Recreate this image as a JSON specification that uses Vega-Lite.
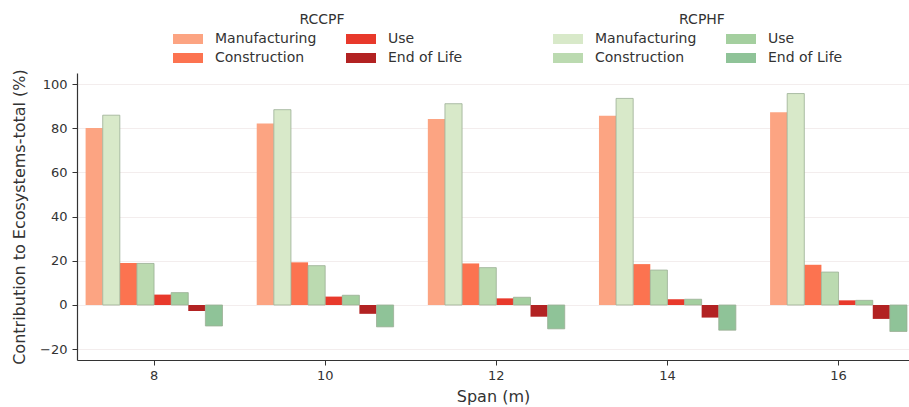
{
  "$schema": "https://vega.github.io/schema/vega-lite/v6.json",
  "autosize": {"type": "none"},
  "padding": {"left": 77, "top": 73, "right": 0, "bottom": 47},
  "width": 832,
  "height": 287,
  "background": "white",
  "config": {
    "font": "DejaVu Sans",
    "view": {"stroke": null},
    "axis": {"labelFont": "DejaVu Sans", "titleFont": "DejaVu Sans", "labelColor": "#333333", "titleColor": "#333333", "domainColor": "#333333", "tickColor": "#333333", "domainWidth": 1.2, "tickWidth": 1, "tickSize": 5, "labelFontSize": 13, "titleFontSize": 16, "titleFontWeight": "normal"},
    "legend": {"labelFont": "DejaVu Sans", "titleFont": "DejaVu Sans", "labelFontSize": 14, "titleFontSize": 14, "titleFontWeight": "normal", "labelColor": "#333333", "titleColor": "#333333"}
  },
  "data": {
    "values": [
      {"span": 8, "system": "RCCPF", "phase": "Manufacturing", "value": 80.1},
      {"span": 8, "system": "RCPHF", "phase": "Manufacturing", "value": 85.9},
      {"span": 8, "system": "RCCPF", "phase": "Construction", "value": 19.0},
      {"span": 8, "system": "RCPHF", "phase": "Construction", "value": 18.8},
      {"span": 8, "system": "RCCPF", "phase": "Use", "value": 4.7},
      {"span": 8, "system": "RCPHF", "phase": "Use", "value": 5.6},
      {"span": 8, "system": "RCCPF", "phase": "End of Life", "value": -2.7},
      {"span": 8, "system": "RCPHF", "phase": "End of Life", "value": -9.5},
      {"span": 10, "system": "RCCPF", "phase": "Manufacturing", "value": 82.1},
      {"span": 10, "system": "RCPHF", "phase": "Manufacturing", "value": 88.4},
      {"span": 10, "system": "RCCPF", "phase": "Construction", "value": 19.3},
      {"span": 10, "system": "RCPHF", "phase": "Construction", "value": 17.8},
      {"span": 10, "system": "RCCPF", "phase": "Use", "value": 3.8},
      {"span": 10, "system": "RCPHF", "phase": "Use", "value": 4.4},
      {"span": 10, "system": "RCCPF", "phase": "End of Life", "value": -4.0},
      {"span": 10, "system": "RCPHF", "phase": "End of Life", "value": -9.9},
      {"span": 12, "system": "RCCPF", "phase": "Manufacturing", "value": 84.2},
      {"span": 12, "system": "RCPHF", "phase": "Manufacturing", "value": 91.1},
      {"span": 12, "system": "RCCPF", "phase": "Construction", "value": 18.8},
      {"span": 12, "system": "RCPHF", "phase": "Construction", "value": 16.9},
      {"span": 12, "system": "RCCPF", "phase": "Use", "value": 3.0},
      {"span": 12, "system": "RCPHF", "phase": "Use", "value": 3.5},
      {"span": 12, "system": "RCCPF", "phase": "End of Life", "value": -5.3},
      {"span": 12, "system": "RCPHF", "phase": "End of Life", "value": -10.8},
      {"span": 14, "system": "RCCPF", "phase": "Manufacturing", "value": 85.7},
      {"span": 14, "system": "RCPHF", "phase": "Manufacturing", "value": 93.5},
      {"span": 14, "system": "RCCPF", "phase": "Construction", "value": 18.5},
      {"span": 14, "system": "RCPHF", "phase": "Construction", "value": 15.8},
      {"span": 14, "system": "RCCPF", "phase": "Use", "value": 2.6},
      {"span": 14, "system": "RCPHF", "phase": "Use", "value": 2.6},
      {"span": 14, "system": "RCCPF", "phase": "End of Life", "value": -5.7},
      {"span": 14, "system": "RCPHF", "phase": "End of Life", "value": -11.4},
      {"span": 16, "system": "RCCPF", "phase": "Manufacturing", "value": 87.2},
      {"span": 16, "system": "RCPHF", "phase": "Manufacturing", "value": 95.7},
      {"span": 16, "system": "RCCPF", "phase": "Construction", "value": 18.2},
      {"span": 16, "system": "RCPHF", "phase": "Construction", "value": 14.9},
      {"span": 16, "system": "RCCPF", "phase": "Use", "value": 2.1},
      {"span": 16, "system": "RCPHF", "phase": "Use", "value": 2.1},
      {"span": 16, "system": "RCCPF", "phase": "End of Life", "value": -6.3},
      {"span": 16, "system": "RCPHF", "phase": "End of Life", "value": -12.0}
    ]
  },
  "transform": [{"calculate": "datum.phase + ' ' + datum.system", "as": "slot"}],
  "encoding": {
    "x": {
      "field": "span", "type": "ordinal",
      "scale": {"paddingInner": 0.2, "paddingOuter": 0.031, "align": 0.81},
      "axis": {"title": "Span (m)", "labelAngle": 0, "labelPadding": 4, "titlePadding": 6, "grid": false}
    },
    "xOffset": {
      "field": "slot", "type": "nominal",
      "scale": {"domain": ["Manufacturing RCCPF", "Manufacturing RCPHF", "Construction RCCPF", "Construction RCPHF", "Use RCCPF", "Use RCPHF", "End of Life RCCPF", "End of Life RCPHF"]}
    },
    "y": {
      "field": "value", "type": "quantitative",
      "scale": {"domain": [-24.9, 105], "nice": false, "zero": false},
      "axis": {"title": "Contribution to Ecosystems-total (%)", "values": [-20, 0, 20, 40, 60, 80, 100], "grid": true, "gridColor": "#F3EDED", "gridWidth": 1, "labelPadding": 5, "titlePadding": 12}
    }
  },
  "layer": [
    {
      "transform": [{"filter": "datum.system === 'RCCPF'"}],
      "mark": {"type": "bar", "strokeWidth": 0},
      "encoding": {
        "color": {
          "field": "phase", "type": "nominal",
          "scale": {"domain": ["Manufacturing", "Construction", "Use", "End of Life"], "range": ["#FCA482", "#FC7350", "#E8392B", "#B22222"]},
          "legend": {"title": "RCCPF", "orient": "none", "legendX": 104, "legendY": -60, "columns": 2, "columnPadding": 29, "rowPadding": 5, "labelOffset": 20, "symbolType": "M-3,-1H3V1H-3Z", "symbolSize": 100, "symbolStrokeWidth": 0, "titleAnchor": "middle", "titlePadding": 5}
        }
      }
    },
    {
      "transform": [{"filter": "datum.system === 'RCPHF'"}],
      "mark": {"type": "bar", "stroke": "#9AAE94", "strokeWidth": 0.8},
      "encoding": {
        "color": {
          "field": "phase", "type": "nominal",
          "scale": {"domain": ["Manufacturing", "Construction", "Use", "End of Life"], "range": ["#D8E9C9", "#BBDAB0", "#A4CF9F", "#8FC398"]},
          "legend": {"title": "RCPHF", "orient": "none", "legendX": 484, "legendY": -60, "columns": 2, "columnPadding": 29, "rowPadding": 5, "labelOffset": 20, "symbolType": "M-3,-1H3V1H-3Z", "symbolSize": 100, "symbolStrokeWidth": 0, "titleAnchor": "middle", "titlePadding": 5}
        }
      }
    }
  ],
  "resolve": {"scale": {"color": "independent"}, "legend": {"color": "independent"}}
}
